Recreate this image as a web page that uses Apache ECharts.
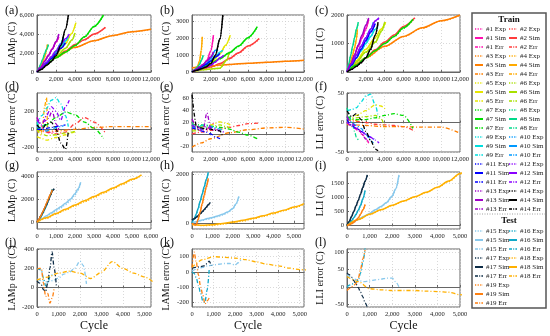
<!DOCTYPE html>
<html><head><meta charset="utf-8">
<script src="https://cdn.jsdelivr.net/npm/echarts@6/dist/echarts.min.js"></script>
<style>html,body{margin:0;padding:0;background:#fff}#c{width:550px;height:336px}</style>
</head><body><div id="c"></div>
<script>
// ---------- DATA ----------
const cellNames = ['#1','#2','#3','#4','#5','#6','#7','#8','#9','#10','#11','#12','#13','#14','#15','#16','#17','#18','#19'];
const cellColors = ['#ff10b0','#ff3c3c','#ff7f00','#ffaa00','#e6e600','#a8e000','#00dd00','#00d98a','#00dede','#0099ff','#0000ff','#8a00ff','#a000c8','#000000','#88c8ec','#10a8c8','#0d2c46','#ffb000','#ff8010'];
const trainCells = [0,1,2,3,4,5,6,7,8,9,10,11,12,13];
const testCells = [14,15,16,17,18];

const cycles = [
  [0,400,800,1200,1600,2000,2300],
  [0,1000,2000,3000,4000,5000,6000,7200],
  [0,1000,2000,4000,6000,8000,10000,12000],
  [0,200,400,600,800,1000,1100],
  [0,500,1000,2000,3000,3600,4100],
  [0,500,1000,2000,3000,3700,4000],
  [0,1000,2000,3000,4000,5000,6000,7000],
  [0,200,400,600,800,1000,1200],
  [0,500,1000,1500,2000,2500,3000,3300],
  [0,500,1000,1500,2000,2500,2800],
  [0,500,1000,1500,2000,2500,3000],
  [0,500,1000,1500,2000,2500,3000,3400],
  [0,400,800,1200,1600,2000,2300],
  [0,500,1000,1500,2000,2500,3000,3300],
  [0,250,500,750,1000,1250,1500,1750,2000,2150,2300],
  [0,100,200,300,400,500,600,700,800],
  [0,100,200,300,400,500,600,700,800,900],
  [0,500,1000,1500,2000,2500,3000,3500,4000,4500,5000,5500],
  [0,100,200,300,400,500,600,700,800]
];

const lampSim = [
  [0,600,1200,1800,2450,3150,3700],
  [0,800,1500,2200,2900,3400,4000,4700],
  [0,900,1600,2600,3300,3850,4250,4500],
  [0,350,700,1100,1600,2300,2900],
  [0,450,900,1900,3000,4000,5200],
  [0,400,800,1600,2500,3400,4100],
  [0,800,1500,2100,2800,3700,4800,6000],
  [0,400,850,1350,1900,2400,2900],
  [0,500,1000,1500,2100,2700,3300,3700],
  [0,500,1000,1500,2200,3000,3600],
  [0,450,900,1400,1900,2500,3100],
  [0,500,1000,1600,2200,2900,3500,4000],
  [0,500,1100,1700,2400,3200,4000],
  [0,300,700,1100,1700,2800,4500,6000],
  [0,280,560,820,1080,1350,1650,2000,2500,2900,3500],
  [0,200,450,750,1100,1500,1950,2400,2900],
  [0,250,550,850,1200,1550,1950,2350,2750,2950],
  [0,380,760,1130,1500,1870,2250,2620,3000,3380,3760,4150],
  [0,250,550,900,1250,1650,2050,2450,2850]
];
const lampExp = [
  [0,620,1180,1780,2420,3100,3680],
  [0,780,1480,2180,2870,3380,3970,4680],
  [0,880,1580,2580,3280,3830,4230,4480],
  [0,330,680,1080,1580,2250,2850],
  [0,430,880,1870,2960,3950,5150],
  [0,380,780,1570,2470,3360,4060],
  [0,780,1480,2080,2770,3660,4760,5950],
  [0,380,830,1320,1870,2370,2860],
  [0,480,980,1480,2070,2660,3260,3660],
  [0,480,980,1480,2170,2960,3560],
  [0,430,880,1380,1870,2470,3060],
  [0,480,980,1570,2170,2860,3460,3960],
  [0,480,1080,1670,2370,3160,3960],
  [0,290,680,1080,1670,2760,4450,5950],
  [0,250,500,740,980,1240,1530,1860,2360,2780,3450],
  [0,190,430,720,1070,1460,1900,2350,2850],
  [0,240,530,830,1170,1520,1910,2310,2700,2900],
  [0,330,700,1060,1420,1790,2160,2540,2920,3300,3700,4100],
  [0,240,530,870,1220,1610,2000,2400,2800]
];
const lamnSim = [
  [0,150,300,450,700,1250,2200],
  [0,150,300,500,800,1150,1550,2000],
  [250,320,370,450,520,580,640,700],
  [0,100,200,350,650,1300,2100],
  [0,100,200,500,1100,1600,2200],
  [0,80,130,180,230,700,1200],
  [0,250,500,800,1150,1550,2050,2700],
  [0,100,200,300,450,700,1000],
  [0,150,300,450,650,900,1200,1300],
  [0,150,300,500,800,1300,1300],
  [0,150,300,450,650,900,1100],
  [0,100,200,300,400,600,850,1000],
  [0,150,300,450,650,900,1200],
  [0,100,200,300,500,1000,2000,3400],
  [0,60,120,180,230,290,360,450,600,780,1100],
  [0,150,350,600,900,1200,1500,1800,2100],
  [120,170,230,300,380,460,550,650,760,850],
  [-60,-90,-70,-20,40,110,200,300,410,530,660,800],
  [0,-60,-80,150,450,800,1150,1500,1850]
];
const lamnExp = [
  [0,140,290,440,680,1200,2150],
  [0,140,290,480,780,1130,1520,1970],
  [240,310,360,440,510,570,630,690],
  [0,90,190,340,630,1260,2060],
  [0,90,190,480,1070,1570,2170],
  [0,70,120,170,220,670,1170],
  [0,240,490,780,1130,1520,2020,2670],
  [0,90,190,290,440,680,970],
  [0,140,290,440,630,880,1170,1280],
  [0,140,290,490,780,1270,1280],
  [0,140,290,440,630,880,1080],
  [0,90,190,290,390,580,830,980],
  [0,140,290,440,630,880,1170],
  [0,90,190,290,480,970,1960,3350],
  [0,50,100,150,200,260,330,420,570,750,1080],
  [0,140,330,580,870,1170,1470,1770,2060],
  [110,160,220,290,370,450,540,640,740,830],
  [-70,-110,-100,-50,10,80,170,270,380,500,630,770],
  [0,-70,-100,120,420,770,1120,1470,1820]
];
const lliSim = [
  [0,300,600,900,1200,1520,1850],
  [0,250,500,780,1050,1300,1600,1900],
  [0,280,500,900,1250,1550,1800,2000],
  [0,200,400,600,850,1150,1500],
  [0,200,400,800,1200,1500,1750],
  [0,180,350,700,1050,1450,1750],
  [0,250,500,750,1000,1250,1550,1850],
  [0,300,600,900,1200,1500,1750],
  [0,250,500,750,1000,1250,1500,1600],
  [0,300,600,900,1200,1500,1750],
  [0,250,500,800,1100,1400,1700],
  [0,300,600,900,1200,1500,1800,1900],
  [0,300,600,950,1300,1650,1900],
  [0,100,200,330,500,800,1300,1750],
  [0,110,220,330,430,560,680,820,1050,1300,1800],
  [0,80,170,280,400,550,720,950,1250],
  [0,150,320,500,700,900,1120,1350,1580,1800],
  [0,220,400,560,720,870,1020,1180,1360,1580,1850,2150],
  [0,30,70,120,190,280,400,560,750]
];
const lliExp = [
  [0,290,590,880,1180,1500,1830],
  [0,240,490,770,1030,1290,1580,1880],
  [0,270,490,890,1240,1540,1790,1990],
  [0,190,390,590,830,1130,1480],
  [0,190,390,790,1180,1480,1730],
  [0,170,340,690,1030,1430,1730],
  [0,240,490,740,990,1240,1530,1830],
  [0,290,590,890,1180,1480,1730],
  [0,240,490,740,990,1230,1480,1580],
  [0,290,590,890,1180,1480,1730],
  [0,240,490,790,1080,1380,1680],
  [0,290,590,890,1180,1480,1780,1880],
  [0,290,590,930,1280,1630,1880],
  [0,90,190,320,490,780,1270,1720],
  [0,100,210,320,420,540,660,800,1020,1270,1760],
  [0,70,160,270,390,530,700,930,1220],
  [0,140,310,490,690,890,1100,1330,1560,1780],
  [0,210,390,550,710,860,1010,1170,1350,1560,1830,2120],
  [0,20,60,110,180,270,390,550,740]
];
const lampErr = [
  [130,40,-10,-40,-30,-20,10],
  [0,-30,-50,-30,60,130,80,-40],
  [0,-20,-20,0,20,30,30,30],
  [0,-40,-60,50,250,350,20],
  [-80,-100,-120,-90,-60,-40,-20],
  [0,-50,-70,-60,-40,-30,-20],
  [0,50,130,190,160,80,10,-100],
  [80,40,20,30,50,40,30],
  [50,150,230,320,350,280,150,30],
  [30,0,-20,0,20,30,40],
  [0,0,10,20,30,40,50],
  [100,50,150,250,200,100,250,320],
  [130,70,90,120,200,60,0],
  [50,0,60,80,0,-150,-220,-20],
  [90,70,60,75,100,140,160,200,275,230,40],
  [200,190,180,100,20,50,110,130,120],
  [70,50,30,-20,-40,50,200,370,200,20],
  [80,110,150,170,150,95,160,270,200,150,110,40],
  [190,200,200,50,-90,-60,-160,-110,0]
];
const lamnErr = [
  [20,12,6,5,8,12,18],
  [0,3,6,8,11,14,17,18],
  [-22,-15,-8,2,7,10,11,8],
  [10,8,6,8,10,12,15],
  [10,10,12,15,20,18,15],
  [5,5,8,12,15,12,10],
  [15,15,13,11,8,3,-2,-8],
  [20,15,10,10,12,14,12],
  [10,12,14,15,12,10,8,5],
  [15,10,8,10,12,10,8],
  [10,8,5,3,0,-5,-8],
  [15,10,8,12,10,8,5,3],
  [25,15,10,8,35,10,5],
  [65,12,10,8,8,6,5,-5],
  [5,20,30,40,45,50,55,55,45,60,85],
  [0,-10,-40,-90,-140,-190,-200,-120,20],
  [25,28,30,32,35,38,40,55,70,40],
  [30,80,100,95,90,80,65,50,40,25,15,10],
  [30,130,60,-20,-100,-150,-210,-190,-170]
];
const lliErr = [
  [0,-6,-10,-14,-20,-27,-35],
  [5,2,0,-3,-4,-5,-7,-15],
  [-3,-4,-5,-7,-7,-8,-8,-18],
  [10,8,6,5,4,3,2],
  [5,8,12,20,30,28,22],
  [5,5,8,10,12,5,-10],
  [10,5,5,8,12,15,12,-10],
  [25,15,5,-5,-15,-25,-30],
  [20,22,25,35,45,48,30,10],
  [10,0,-5,-10,-20,-30,-35],
  [5,-5,-10,-15,-20,-25,-30],
  [0,-5,-10,-15,-20,-25,-30,-35],
  [10,0,-5,-10,-20,-28,-32],
  [20,10,15,5,-15,-30,-45,-48],
  [35,25,18,15,17,20,22,25,25,15,0],
  [0,5,8,10,12,20,40,70,110],
  [40,35,28,18,8,-2,-15,-28,-45,-58],
  [30,15,-5,-8,-10,-10,-10,-12,-13,-15,-22,-30],
  [-10,-5,0,5,10,25,50,80,105]
];

const panelLabels = ['(a)','(b)','(c)','(d)','(e)','(f)','(g)','(h)','(i)','(j)','(k)','(l)'];
const yNames = ['LAMp (C)','LAMn (C)','LLI (C)','LAMp error (C)','LAMn error (C)','LLI error (C)','LAMp (C)','LAMn (C)','LLI (C)','LAMp error (C)','LAMn error (C)','LLI error (C)'];
const legendTrainPairs = [[1,2],[3,4],[5,6],[7,8],[9,10],[11,12],[13,14]];
const legendTestPairs = [[15,16],[17,18],[19,null]];
const legendKinds = ['Exp','Sim','Err'];

// ---------- LAYOUT ----------
const colLeft = [37, 192, 347];
const colWidth = [114, 112, 113];
const rowTop = [15, 93, 172, 249];
const rowHeight = [57, 59, 57, 58];
const nameGaps = [20, 21, 22];

const xCfg = [
  {max:12000, interval:2000},{max:12000, interval:2000},{max:12000, interval:2000},
  {max:12000, interval:2000},{max:12000, interval:2000},{max:12000, interval:2000},
  {max:6000, interval:1000},{max:5500, interval:1000},{max:5000, interval:1000},
  {max:5300, interval:1000},{max:5200, interval:1000},{max:5000, interval:1000}
];
const yCfg = [
  {min:0,max:6000,interval:2000,comma:true},{min:0,max:3400,interval:1000},{min:0,max:2000,interval:1000},
  {min:-250,max:400,splitNumber:3},{min:-30,max:68,splitNumber:5},{min:-50,max:50,interval:50},
  {min:-600,max:4400,splitNumber:3},{min:-250,max:2110,splitNumber:2},{min:-120,max:1900,splitNumber:4},
  {min:-200,max:400,interval:200},{min:-230,max:150,splitNumber:4},{min:-57,max:108,splitNumber:3}
];
const panelQty = [
  ['val',lampSim,lampExp],['val',lamnSim,lamnExp],['val',lliSim,lliExp],
  ['err',lampErr],['err',lamnErr],['err',lliErr],
  ['val',lampSim,lampExp],['val',lamnSim,lamnExp],['val',lliSim,lliExp],
  ['err',lampErr],['err',lamnErr],['err',lliErr]
];

const FONT = 'Liberation Serif';
const fmtComma = v => String(v).replace(/\B(?=(\d{3})+(?!\d))/g, ',');
const DASHDOT = [4,2,1,2];
const DOT = [1.2,1.6];

const grids = [], xAxes = [], yAxes = [], series = [], graphics = [];
for (let p = 0; p < 12; p++) {
  const r = Math.floor(p/3), c = p%3;
  grids.push({left:colLeft[c], top:rowTop[r], width:colWidth[c], height:rowHeight[r],
    show:true, borderColor:'#666', borderWidth:1, backgroundColor:'#fff'});
  const xc = xCfg[p];
  xAxes.push({type:'value', gridIndex:p, min:0, max:xc.max, interval:xc.interval,
    name: r===3 ? 'Cycle' : '', nameLocation:'middle', nameGap:13,
    nameTextStyle:{fontFamily:FONT, fontSize:12, color:'#111'},
    axisLine:{show:true, lineStyle:{color:'#666'}},
    axisTick:{show:true, inside:true, length:2, lineStyle:{color:'#666'}},
    axisLabel:{fontFamily:FONT, fontSize:6.5, color:'#222', margin:4, formatter: v => fmtComma(v),
      showMaxLabel: xc.max % xc.interval === 0 ? true : false},
    splitLine:{show:true, lineStyle:{color:'#cfcfcf', type:[1,2], width:0.8}}
  });
  const yc = yCfg[p];
  const ya = {type:'value', gridIndex:p, min:yc.min, max:yc.max,
    name: yNames[p], nameLocation:'middle', nameGap: nameGaps[c], nameRotate:90,
    nameMoveOverlap:false,
    nameTextStyle:{fontFamily:FONT, fontSize:10, color:'#111'},
    axisLine:{show:true, lineStyle:{color:'#666'}},
    axisTick:{show:true, inside:true, length:2, lineStyle:{color:'#666'}},
    axisLabel:{fontFamily:FONT, fontSize:6.5, color:'#222', margin:3,
      formatter: v => yc.comma ? fmtComma(v) : String(v)},
    splitLine:{show:true, lineStyle:{color:'#cfcfcf', type:[1,2], width:0.8}}
  };
  if (yc.interval) { ya.interval = yc.interval; if (yc.max % yc.interval !== 0) ya.axisLabel.showMaxLabel = false; }
  else { ya.splitNumber = yc.splitNumber; ya.axisLabel.showMaxLabel = false; ya.axisLabel.showMinLabel = false; }
  yAxes.push(ya);

  const cells = r < 2 ? trainCells : testCells;
  const q = panelQty[p];
  cells.forEach(ci => {
    const col = cellColors[ci];
    const cyc = cycles[ci];
    if (q[0] === 'val') {
      series.push({type:'line', xAxisIndex:p, yAxisIndex:p, showSymbol:false, silent:true, smooth:0.3, smoothMonotone:'x',
        data: cyc.map((x,k)=>[x, q[2][ci][k]]), lineStyle:{color:col, width:1.3, type:DOT}, z:2});
      series.push({type:'line', xAxisIndex:p, yAxisIndex:p, showSymbol:false, silent:true, smooth:0.3, smoothMonotone:'x',
        data: cyc.map((x,k)=>[x, q[1][ci][k]]), lineStyle:{color:col, width:1.5}, z:3});
    } else {
      series.push({type:'line', xAxisIndex:p, yAxisIndex:p, showSymbol:false, silent:true, smooth:0.3, smoothMonotone:'x',
        data: cyc.map((x,k)=>[x, q[1][ci][k]]), lineStyle:{color:col, width:1.3, type:DASHDOT}, z:3});
    }
  });
}

// panel letters
const lblX = [5, 160, 315];
const lblY = [12, 88, 167, 244];
for (let p = 0; p < 12; p++) {
  const r = Math.floor(p/3), c = p%3;
  graphics.push({type:'text', left:lblX[c], top:lblY[r]-7, silent:true,
    style:{text:panelLabels[p], font:'12px "Liberation Serif"', fill:'#111'}});
}

// legend box
const LB = {x:472, y:13, w:74, h:295};
graphics.push({type:'rect', silent:true, z:10, shape:{x:LB.x, y:LB.y, width:LB.w, height:LB.h},
  style:{fill:'#fff', stroke:'#555', lineWidth:1.5}});
graphics.push({type:'text', silent:true, z:11, style:{text:'Train', x:LB.x+LB.w/2, y:20, align:'center', verticalAlign:'middle',
  font:'bold 9px "Liberation Serif"', fill:'#111'}});
graphics.push({type:'line', silent:true, z:11, shape:{x1:LB.x, y1:214, x2:LB.x+LB.w, y2:214},
  style:{stroke:'#888', lineWidth:0.8, lineDash:[1,1.5]}});
graphics.push({type:'text', silent:true, z:11, style:{text:'Test', x:LB.x+LB.w/2, y:221, align:'center', verticalAlign:'middle',
  font:'bold 9px "Liberation Serif"', fill:'#111'}});
function legendRows(pairs, y0) {
  let row = 0;
  pairs.forEach(pair => {
    legendKinds.forEach((kind, ki) => {
      const y = y0 + row*9;
      pair.forEach((num, side) => {
        if (num === null) return;
        const col = cellColors[num-1];
        const sx = side === 0 ? 475 : 509;
        const style = {stroke:col, lineWidth: ki===1 ? 2 : 1.4};
        if (ki === 0) style.lineDash = [1.2,1.4];
        if (ki === 2) style.lineDash = [3,1.2,1,1.2];
        graphics.push({type:'line', silent:true, z:11, shape:{x1:sx, y1:y, x2:sx+8, y2:y}, style});
        graphics.push({type:'text', silent:true, z:11, style:{text:'#'+num+' '+kind, x:sx+11, y:y,
          verticalAlign:'middle', font:'7px "Liberation Serif"', fill:'#222'}});
      });
      row++;
    });
  });
}
legendRows(legendTrainPairs, 29);
legendRows(legendTestPairs, 231);

const chart = echarts.init(document.getElementById('c'), null, {renderer:'canvas'});
chart.setOption({animation:false, backgroundColor:'#fff', grid:grids, xAxis:xAxes, yAxis:yAxes, series, graphic:graphics});
</script>
</body></html>
